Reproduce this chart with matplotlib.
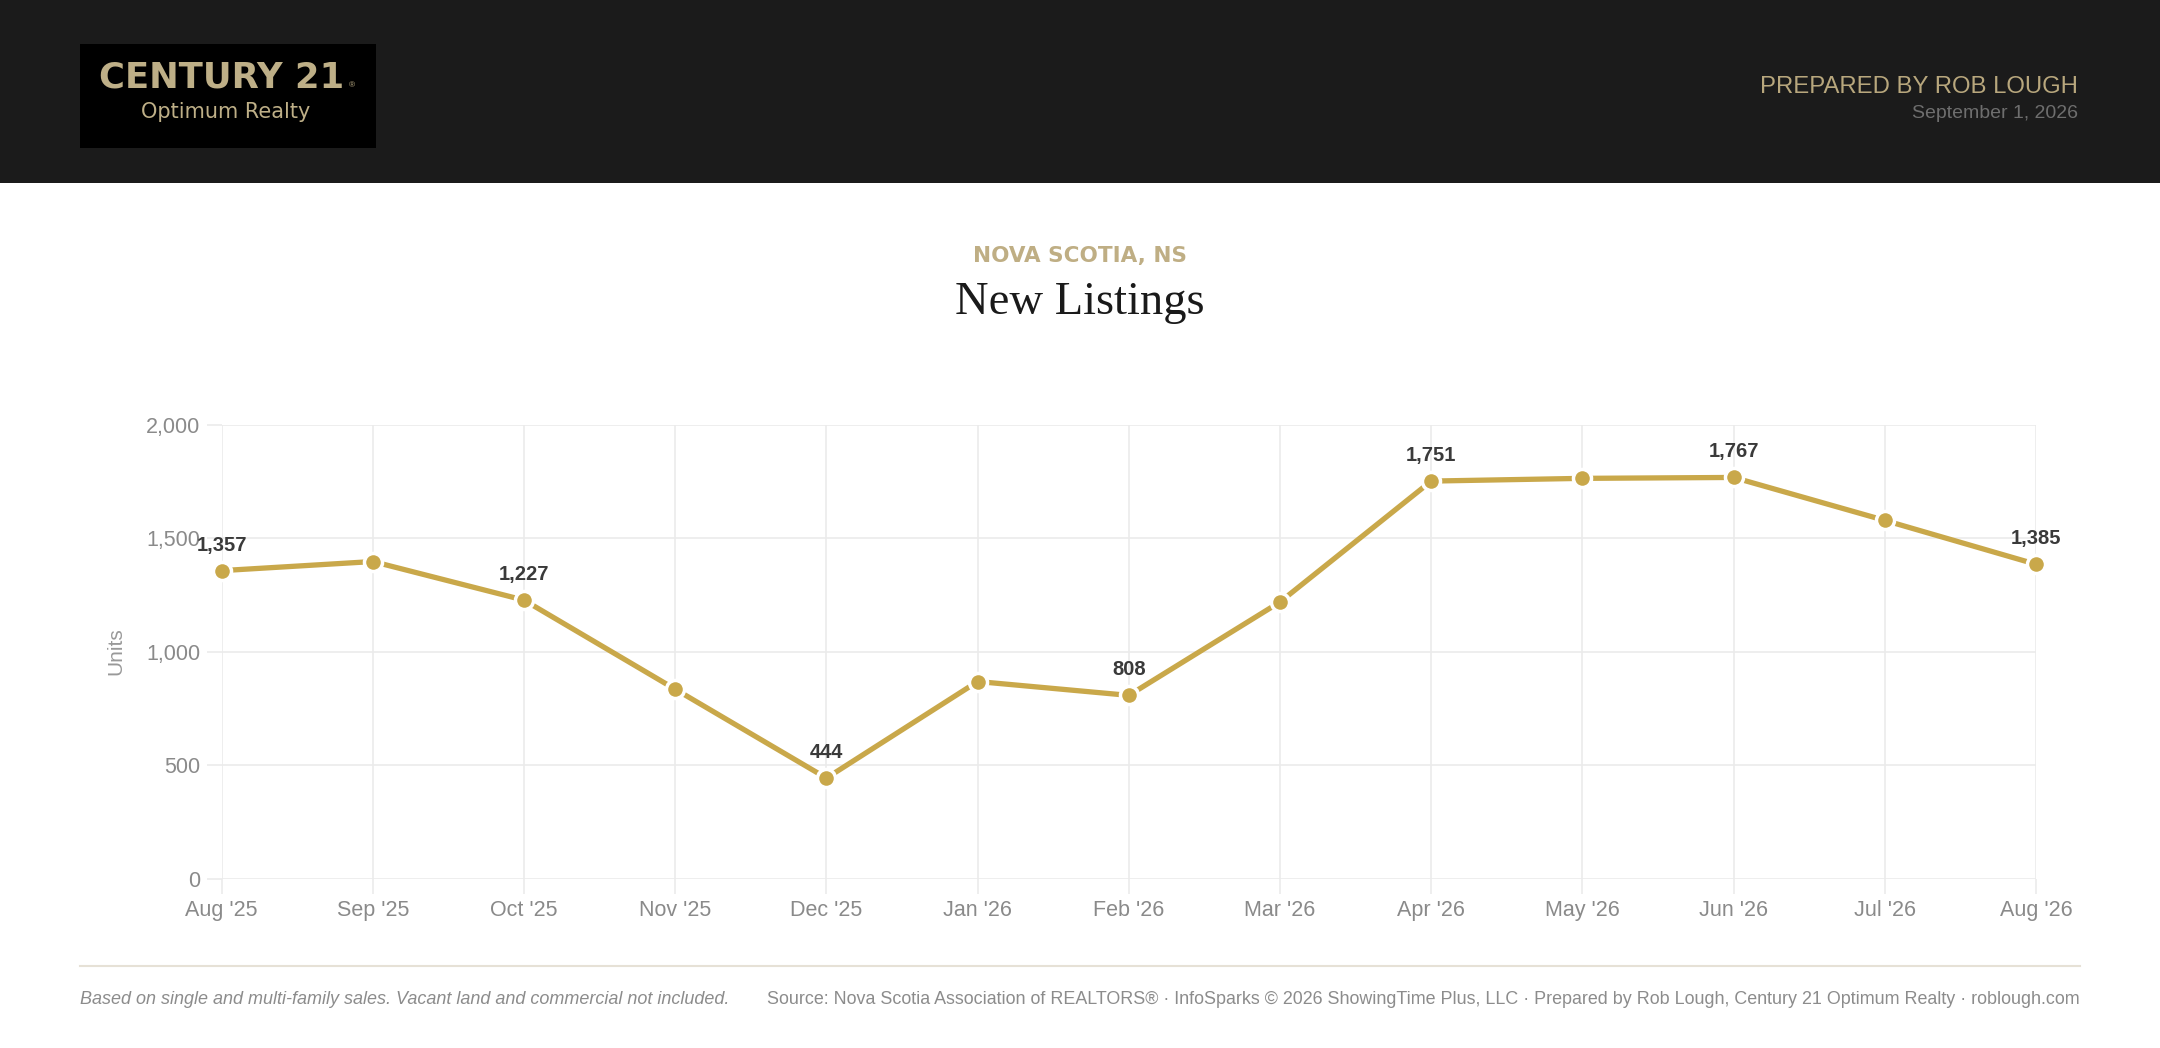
import matplotlib.pyplot as plt
from matplotlib.patches import Rectangle
from matplotlib.lines import Line2D

# data
months = ["Aug '25", "Sep '25", "Oct '25", "Nov '25", "Dec '25", "Jan '26", "Feb '26",
          "Mar '26", "Apr '26", "May '26", "Jun '26", "Jul '26", "Aug '26"]
new_listings = [1357, 1397, 1227, 835, 444, 869, 808, 1219, 1751, 1763, 1767, 1578, 1385]
labelled = [0, 2, 4, 6, 8, 10, 12]
y_ticks = [0, 500, 1000, 1500, 2000]

W, H = 2160, 1048
GOLD = '#c9a84a'
LOGO_GOLD = '#beaf87'
GRID = '#ebebeb'
TICK_TXT = '#8a8a8a'
SANS = ['Liberation Sans', 'DejaVu Sans']


def fx(x):
    return x / W


def fy(y):
    return 1 - y / H


fig = plt.figure(figsize=(W / 100, H / 100), dpi=100)
fig.patch.set_facecolor('white')

# header band + logo
fig.patches.append(Rectangle((0, fy(183)), 1, 183 / H, transform=fig.transFigure,
                             facecolor='#1b1b1b', edgecolor='none', zorder=0))
fig.patches.append(Rectangle((fx(80), fy(147.5)), 296 / W, 103.5 / H, transform=fig.transFigure,
                             facecolor='#000000', edgecolor='none', zorder=1))
fig.text(fx(222), fy(87.5), 'CENTURY 21', family='DejaVu Sans', weight='bold',
         size=25.5, color=LOGO_GOLD, ha='center', va='baseline')
fig.text(fx(349), fy(87.5), '®', family=SANS, size=6, color=LOGO_GOLD, ha='left', va='baseline')
fig.text(fx(225.5), fy(117.5), 'Optimum Realty', family='DejaVu Sans',
         size=15, color=LOGO_GOLD, ha='center', va='baseline')

fig.text(fx(2078), fy(93.3), 'PREPARED BY ROB LOUGH', family=SANS, size=17.2,
         color='#b8a77d', ha='right', va='baseline')
fig.text(fx(2078), fy(118.3), 'September 1, 2026', family=SANS, size=14,
         color='#6e6e6e', ha='right', va='baseline')

# titles
fig.text(0.5, fy(262.3), 'NOVA SCOTIA, NS', family='DejaVu Sans', weight='bold', size=15.5,
         color='#bfae84', ha='center', va='baseline')
fig.text(0.5, fy(313.5), 'New Listings', family=['Liberation Serif', 'DejaVu Serif'],
         size=33.5, color='#1a1a1a', ha='center', va='baseline')

# chart
ax = fig.add_axes([fx(221.7), 1 - 879 / H, (2036 - 221.7) / W, (879 - 424.5) / H])
x = list(range(len(months)))
ax.plot(x, new_listings, color=GOLD, lw=3.8, marker='o', ms=13, mfc=GOLD,
        mec='white', mew=2.5, zorder=3, clip_on=False)

for i in labelled:
    ax.annotate(f'{new_listings[i]:,}', (x[i], new_listings[i]), xytext=(0, 14.4),
                textcoords='offset points', ha='center', va='baseline',
                family=SANS, weight='bold', size=14.5, color='#3a3a3a', zorder=4)

ax.set_xlim(0, 12)
ax.set_ylim(0, 2000)
ax.set_xticks(x)
ax.set_xticklabels(months)
ax.set_yticks(y_ticks)
ax.set_yticklabels([f'{v:,}' for v in y_ticks])
ax.grid(True, color=GRID, lw=1.2)
ax.set_axisbelow(True)
for s in ax.spines.values():
    s.set_visible(False)
ax.tick_params(axis='both', length=10.8, width=1.2, color=GRID, labelcolor=TICK_TXT,
               labelsize=15.5, pad=4.5)
for lab in ax.get_xticklabels() + ax.get_yticklabels():
    lab.set_family(SANS)

fig.text(fx(116), fy(651.5), 'Units', family=SANS, size=15, color='#999999',
         rotation=90, ha='center', va='center')

# footer
fig.lines.append(Line2D([fx(80), fx(2080)], [fy(966), fy(966)], transform=fig.transFigure,
                        color='#e6e1d6', lw=1.5))
fig.text(fx(80), fy(999), 'Based on single and multi-family sales. Vacant land and commercial not included.',
         family=SANS, style='italic', size=13, color='#8c8c8c', ha='left', va='center')
fig.text(fx(2080), fy(999),
         'Source: Nova Scotia Association of REALTORS® · InfoSparks © 2026 ShowingTime Plus, LLC · '
         'Prepared by Rob Lough, Century 21 Optimum Realty · roblough.com',
         family=SANS, size=12.9, color='#8c8c8c', ha='right', va='center')

fig.savefig('out.png', dpi=100)
